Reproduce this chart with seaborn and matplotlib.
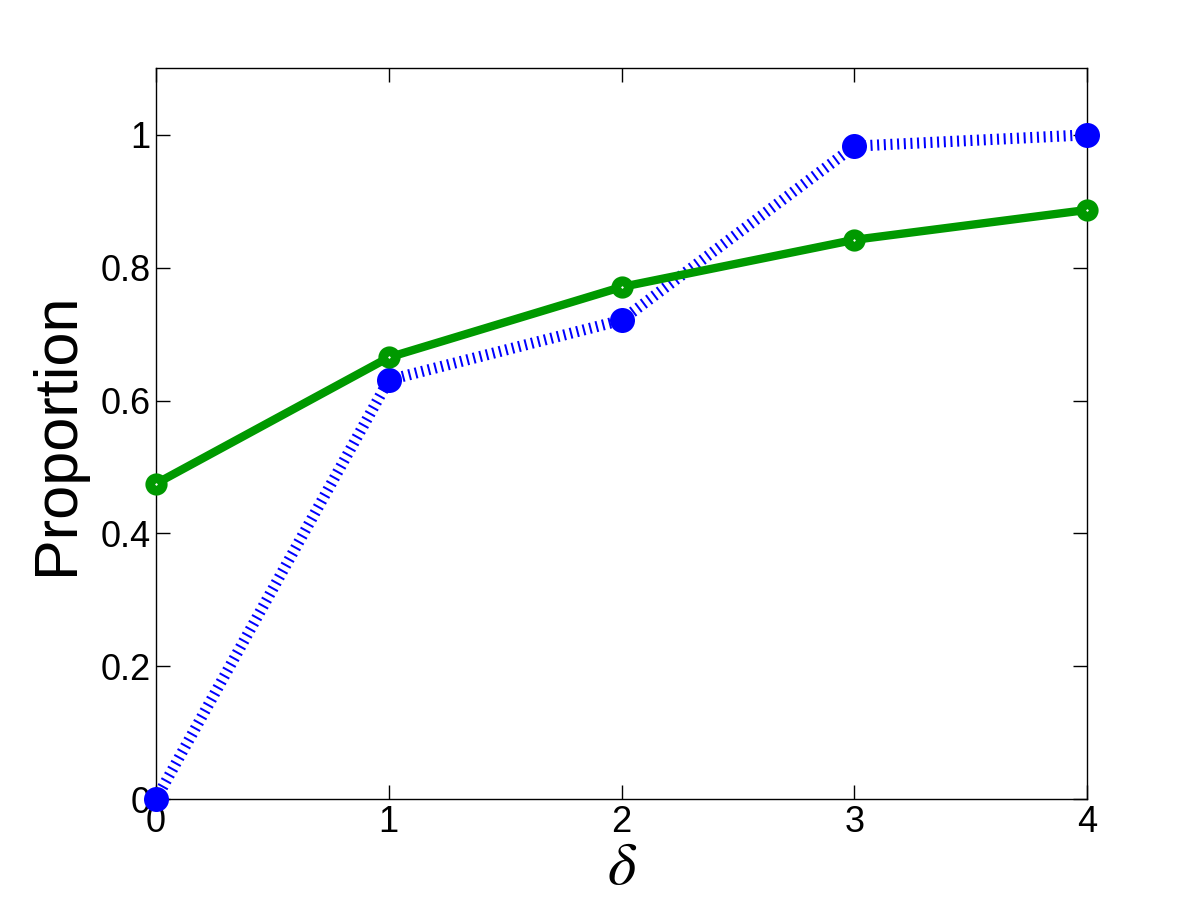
import matplotlib
matplotlib.use("Agg")
import matplotlib.pyplot as plt
import seaborn as sns
import pandas as pd

# data
delta = [0, 1, 2, 3, 4]
green_prop = [0.475, 0.665, 0.771, 0.842, 0.887]
blue_prop = [0.0, 0.631, 0.721, 0.983, 1.0]

sns.set_style("white")
plt.rcParams['font.family'] = ['Liberation Sans', 'DejaVu Sans']
plt.rcParams['mathtext.fontset'] = 'stix'
plt.rcParams['text.color'] = 'black'
plt.rcParams['axes.labelcolor'] = 'black'
plt.rcParams['xtick.color'] = 'black'
plt.rcParams['ytick.color'] = 'black'

fig = plt.figure(figsize=(12, 9), dpi=100)
ax = fig.add_axes([0.13, 0.112, 0.776, 0.812])

df = pd.DataFrame({'delta': delta, 'green': green_prop, 'blue': blue_prop})

sns.lineplot(data=df, x='delta', y='blue', ax=ax, color='#0000ff', lw=8,
             dashes=False, marker='o', markersize=18, markeredgewidth=0,
             clip_on=False, zorder=3)
ax.lines[-1].set_dashes((0.18, 0.42))
sns.lineplot(data=df, x='delta', y='green', ax=ax, color='#009900', lw=6,
             marker='o', markersize=9, markerfacecolor='white',
             markeredgecolor='#009900', markeredgewidth=7,
             clip_on=False, zorder=4)

ax.set_xlim(0, 4)
ax.set_ylim(0, 1.1)
ax.set_xticks([0, 1, 2, 3, 4])
ax.set_yticks([0, 0.2, 0.4, 0.6, 0.8, 1.0])
ax.set_yticklabels(['0', '0.2', '0.4', '0.6', '0.8', '1'])
ax.tick_params(direction='in', length=10, width=1, labelsize=26,
               top=True, right=True, left=True, bottom=True, pad=4)
for s in ax.spines.values():
    s.set_visible(True)
    s.set_color('black')
    s.set_linewidth(1)

ax.set_ylabel('Proportion', fontsize=44, labelpad=10)
ax.set_xlabel(r'$\delta$', fontsize=44, labelpad=0)

plt.savefig('out.png', dpi=100)
